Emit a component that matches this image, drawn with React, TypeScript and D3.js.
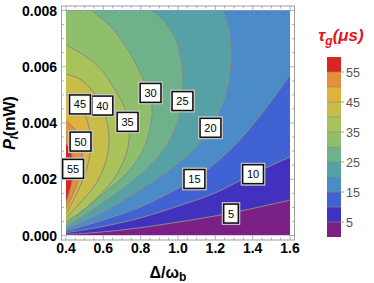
import React from "react";
import * as d3 from "d3";

// contour levels of tau_g (us) and the colours of the bands between them (0-5 ... 55-60)
const levels = [5, 10, 15, 20, 25, 30, 35, 40, 45, 50, 55];
const bandColors = [
  "#7b2186", "#4231bf", "#4162d2", "#4a8bc8", "#55a1a6", "#6db28b",
  "#8fbe6c", "#aac25a", "#c8bd48", "#dfb23c", "#e58f39", "#d92622",
];

// contour lines, [Delta/omega_b, P_l (mW)], from the bottom-left end
const contour05: [number, number][] = [[0.4, 0.00004], [0.529, 0.00009], [0.743, 0.00023], [0.984, 0.00046], [1.284, 0.0008], [1.6, 0.00126]];
const contour10: [number, number][] = [[0.4, 0.0001], [0.582, 0.0003], [0.796, 0.00062], [0.984, 0.00101], [1.198, 0.00151], [1.402, 0.00219], [1.6, 0.00279]];
const contour15: [number, number][] = [[0.4, 0.00016], [0.598, 0.00055], [0.796, 0.00101], [0.984, 0.00162], [1.086, 0.00201], [1.193, 0.00254], [1.305, 0.00322], [1.413, 0.00404], [1.504, 0.00482], [1.6, 0.00571]];
const contour20: [number, number][] = [[0.4, 0.00023], [0.598, 0.00084], [0.796, 0.00162], [0.984, 0.00247], [1.091, 0.00311], [1.177, 0.00386], [1.236, 0.00464], [1.273, 0.00553], [1.284, 0.00642], [1.273, 0.00731], [1.241, 0.008]];
const contour25: [number, number][] = [[0.4, 0.0003], [0.598, 0.00116], [0.743, 0.00187], [0.877, 0.00268], [0.957, 0.0034], [1.0, 0.00411], [1.021, 0.00482], [1.027, 0.00553], [1.016, 0.00624], [0.989, 0.00695], [0.93, 0.00759], [0.861, 0.008]];
const contour30: [number, number][] = [[0.4, 0.00039], [0.598, 0.00148], [0.732, 0.00226], [0.813, 0.00304], [0.85, 0.00382], [0.861, 0.00453], [0.839, 0.00517], [0.796, 0.00581], [0.732, 0.0066], [0.646, 0.00738], [0.539, 0.008]];
const contour35: [number, number][] = [[0.4, 0.0005], [0.486, 0.00087], [0.571, 0.00137], [0.652, 0.00197], [0.711, 0.00268], [0.738, 0.0034], [0.732, 0.00411], [0.705, 0.00468], [0.657, 0.00524], [0.604, 0.00578], [0.518, 0.00631], [0.4, 0.00677]];
const contour40: [number, number][] = [[0.4, 0.00062], [0.475, 0.00116], [0.545, 0.00169], [0.598, 0.00233], [0.625, 0.00297], [0.63, 0.00357], [0.614, 0.00418], [0.582, 0.00475], [0.539, 0.00517], [0.475, 0.00556], [0.4, 0.00574]];
const contour45: [number, number][] = [[0.4, 0.00076], [0.454, 0.00144], [0.496, 0.00208], [0.523, 0.00268], [0.534, 0.00329], [0.523, 0.00386], [0.496, 0.00439], [0.454, 0.00478], [0.4, 0.005]];
const contour50: [number, number][] = [[0.4, 0.00094], [0.438, 0.00148], [0.47, 0.00204], [0.486, 0.00258], [0.486, 0.00304], [0.47, 0.0035], [0.443, 0.00382], [0.4, 0.00407]];
const contour55: [number, number][] = [[0.4, 0.00116], [0.416, 0.00151], [0.432, 0.0019], [0.443, 0.00233], [0.438, 0.00268], [0.421, 0.00304], [0.4, 0.00329]];
const contours = [contour05, contour10, contour15, contour20, contour25, contour30, contour35, contour40, contour45, contour50, contour55];

// label positions on the contours
const labelDelta = [1.284, 1.402, 1.088, 1.174, 1.024, 0.853, 0.73, 0.595, 0.475, 0.478, 0.438];
const labelP = [0.00078, 0.00218, 0.00201, 0.00383, 0.00478, 0.00507, 0.00404, 0.00462, 0.00466, 0.00334, 0.00237];

const xTicks = [0.4, 0.6, 0.8, 1.0, 1.2, 1.4, 1.6];
const yTicks = [0, 0.002, 0.004, 0.006, 0.008];
const legendTicks = [5, 15, 25, 35, 45, 55];

const xDomain = [0.4, 1.6];
const yDomain = [0, 0.008];

const FONT = "'Liberation Sans', Arial, sans-serif";

export default function App() {
  const width = 374;
  const height = 283;

  // frame includes Mathematica-style 2% padding around the plot range
  const x = d3.scaleLinear().domain([0.376, 1.624]).range([61.5, 294.5]);
  const y = d3.scaleLinear().domain([-0.00016, 0.00816]).range([240, 6]);

  const line = d3
    .line<[number, number]>()
    .x((d) => x(d[0]))
    .y((d) => y(d[1]))
    .curve(d3.curveCatmullRom.alpha(0.5));

  const regionPath = (pts: [number, number][]) => {
    const last = pts[pts.length - 1];
    let d = line(pts) || "";
    if (last[0] >= xDomain[1]) d += `L${x(xDomain[1])},${y(yDomain[1])}`;
    if (last[0] >= xDomain[1] || last[1] >= yDomain[1]) d += `L${x(xDomain[0])},${y(yDomain[1])}`;
    return d + "Z";
  };

  const px0 = x(xDomain[0]), px1 = x(xDomain[1]);
  const py0 = y(yDomain[1]), py1 = y(yDomain[0]);

  const xMinor = d3.range(0.4, 1.6001, 0.05);
  const yMinor = d3.range(0, 0.00801, 0.0005);
  const frame = { l: 61.5, r: 294.5, t: 6, b: 240 };

  const legendY = d3.scaleLinear().domain([0, 60]).range([237, 57]);

  return (
    <svg width={width} height={height} style={{ position: "absolute", left: 0, top: 0, background: "white" }}>
      <defs>
        <clipPath id="plotClip">
          <rect x={px0} y={py0} width={px1 - px0} height={py1 - py0} />
        </clipPath>
      </defs>

      <g clipPath="url(#plotClip)">
        <rect x={px0} y={py0} width={px1 - px0} height={py1 - py0} fill={bandColors[0]} />
        {contours.map((c, i) => (
          <path key={"f" + i} d={regionPath(c)} fill={bandColors[i + 1]} />
        ))}
        {contours.map((c, i) => (
          <path key={"l" + i} d={line(c) || ""} fill="none" stroke="#8a8a8a" strokeWidth={1} />
        ))}
      </g>

      {/* frame */}
      <rect x={frame.l} y={frame.t} width={frame.r - frame.l} height={frame.b - frame.t} fill="none" stroke="#a0a0a0" strokeWidth={1} />
      {xMinor.map((v, i) => {
        const major = i % 4 === 0;
        const len = major ? 4.5 : 2.5;
        return (
          <g key={"xt" + i} stroke="#a0a0a0" strokeWidth={0.8}>
            <line x1={x(v)} x2={x(v)} y1={frame.b} y2={frame.b - len} />
            <line x1={x(v)} x2={x(v)} y1={frame.t} y2={frame.t + len} />
          </g>
        );
      })}
      {yMinor.map((v, i) => {
        const major = i % 4 === 0;
        const len = major ? 4.5 : 2.5;
        return (
          <g key={"yt" + i} stroke="#a0a0a0" strokeWidth={0.8}>
            <line x1={frame.l} x2={frame.l + len} y1={y(v)} y2={y(v)} />
            <line x1={frame.r} x2={frame.r - len} y1={y(v)} y2={y(v)} />
          </g>
        );
      })}

      {/* tick labels */}
      {xTicks.map((v) => (
        <text key={"xl" + v} x={x(v)} y={253} textAnchor="middle" fontFamily={FONT} fontWeight="bold" fontSize={14}>
          {d3.format(".1f")(v)}
        </text>
      ))}
      {yTicks.map((v) => (
        <text key={"yl" + v} x={57} y={y(v) + 5} textAnchor="end" fontFamily={FONT} fontWeight="bold" fontSize={14}>
          {d3.format(".3f")(v)}
        </text>
      ))}

      {/* axis titles */}
      <text x={168} y={278} textAnchor="middle" fontFamily={FONT} fontWeight="bold" fontSize={16}>
        Δ/ω<tspan dy={3} fontSize={12}>b</tspan>
      </text>
      <text transform="translate(15,123) rotate(-90)" textAnchor="middle" fontFamily={FONT} fontWeight="bold" fontSize={16}>
        <tspan fontStyle="italic">P</tspan>
        <tspan dy={3} fontSize={11} fontStyle="italic">l</tspan>
        <tspan dy={-3}>(mW)</tspan>
      </text>

      {/* contour labels */}
      {levels.map((lv, i) => {
        const cx = x(labelDelta[i]);
        const cy = y(labelP[i]);
        const w = String(lv).length * 6.2 + 8.5;
        const h = 19;
        return (
          <g key={"lab" + lv}>
            <rect x={cx - w / 2 - 1.5} y={cy - h / 2 - 1.5} width={w + 3} height={h + 3} fill="white" stroke="#c4c4c4" strokeWidth={0.8} />
            <rect x={cx - w / 2} y={cy - h / 2} width={w} height={h} fill="white" stroke="#111" strokeWidth={1.6} />
            <text x={cx} y={cy + 4} textAnchor="middle" fontFamily={FONT} fontSize={11}>
              {lv}
            </text>
          </g>
        );
      })}

      {/* legend */}
      <text x={341} y={41} textAnchor="middle" fontFamily={FONT} fontWeight="bold" fontStyle="italic" fontSize={17} fill="#e8141c">
        τ<tspan dy={4} fontSize={12}>g</tspan>
        <tspan dy={-4}>(μs)</tspan>
      </text>
      {bandColors.map((c, i) => (
        <rect key={"lg" + i} x={327} y={legendY((i + 1) * 5)} width={14} height={legendY(i * 5) - legendY((i + 1) * 5)} fill={c} />
      ))}
      {levels.map((lv) => (
        <line key={"lgl" + lv} x1={327} x2={341} y1={legendY(lv)} y2={legendY(lv)} stroke="#8a8a8a" strokeWidth={0.6} />
      ))}
      {legendTicks.map((v) => (
        <g key={"lt" + v}>
          <line x1={341} x2={344} y1={legendY(v)} y2={legendY(v)} stroke="#888" strokeWidth={0.8} />
          <text x={346} y={legendY(v) + 4.5} fontFamily={FONT} fontSize={12.5} fill="#555">
            {v}
          </text>
        </g>
      ))}
    </svg>
  );
}
